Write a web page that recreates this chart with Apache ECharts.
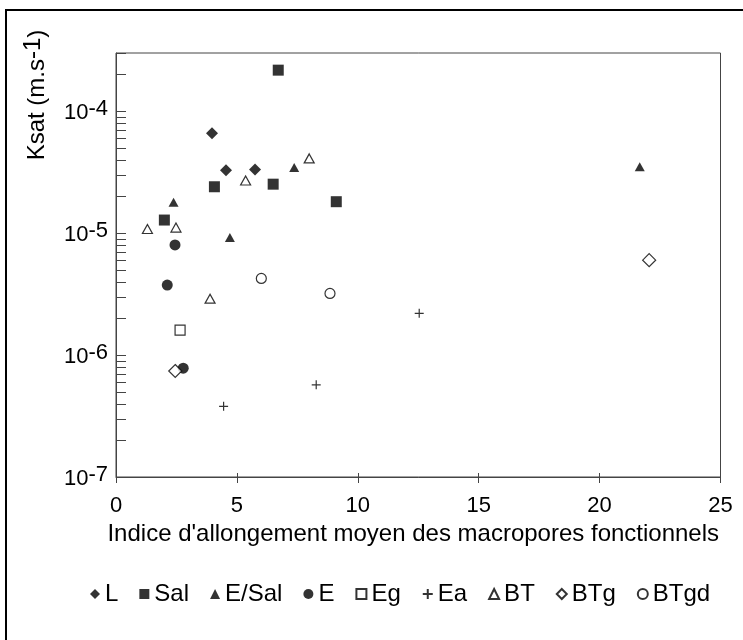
<!DOCTYPE html>
<html>
<head>
<meta charset="utf-8">
<style>html,body{margin:0;padding:0;background:#fff;}#c{width:743px;height:640px;}</style>
<script src="https://cdn.jsdelivr.net/npm/echarts@6/dist/echarts.min.js"></script>
</head>
<body>
<div id="c"></div>
<script>
// ---- data (x = indice d'allongement, y = Ksat in m/s) ----
const seriesNames = ['L', 'Sal', 'E/Sal', 'E', 'Eg', 'Ea', 'BT', 'BTg', 'BTgd'];
const dataL = [[3.97, 6.6e-5], [4.55, 3.28e-5], [5.75, 3.33e-5]];
const dataSal = [[6.71, 2.17e-4], [4.07, 2.4e-5], [6.5, 2.52e-5], [9.11, 1.81e-5], [2.0, 1.28e-5]];
const dataESal = [[7.37, 3.45e-5], [2.38, 1.79e-5], [4.71, 9.2e-6], [21.66, 3.5e-5]];
const dataE = [[2.44, 8.0e-6], [2.12, 3.75e-6], [2.78, 7.8e-7]];
const dataEg = [[2.65, 1.6e-6]];
const dataEa = [[4.45, 3.8e-7], [8.28, 5.7e-7], [12.54, 2.2e-6]];
const dataBT = [[7.99, 4.1e-5], [5.36, 2.7e-5], [1.3, 1.08e-5], [2.48, 1.11e-5], [3.89, 2.9e-6]];
const dataBTg = [[2.45, 7.4e-7], [22.05, 6.0e-6]];
const dataBTgd = [[6.01, 4.25e-6], [8.85, 3.2e-6]];
const xTicks = [0, 5, 10, 15, 20, 25];
const yMin = 1e-7, yMax = 3e-4;
const minorTickValues = [];
[-7, -6, -5, -4].forEach(function (e) {
  for (let m = 2; m <= 9; m++) {
    const v = m * Math.pow(10, e);
    if (v < yMax * 0.999) minorTickValues.push([0, v]);
  }
});

const FONT = "'Liberation Sans', Arial, Helvetica, sans-serif";
const chart = echarts.init(document.getElementById('c'), null, { renderer: 'canvas' });

function scatter(name, data, symbol, size, filled) {
  return {
    name: name, type: 'scatter', data: data, symbol: symbol, symbolSize: size,
    itemStyle: filled
      ? { color: '#000', borderColor: '#000', borderWidth: 0 }
      : { color: symbol.indexOf('path://') === 0 ? 'rgba(0,0,0,0)' : '#fff', borderColor: '#000', borderWidth: 1.2 },
    z: 5
  };
}

const option = {
  backgroundColor: '#fff',
  animation: false,
  grid: { left: 116, top: 53, right: 22.5, bottom: 163, show: true, borderColor: '#444', borderWidth: 1 },
  xAxis: [{
    type: 'value', min: xTicks[0], max: xTicks[xTicks.length - 1], interval: 5,
    position: 'bottom',
    name: "Indice d'allongement moyen des macropores fonctionnels",
    nameLocation: 'middle', nameGap: 44,
    nameTextStyle: { fontSize: 24, color: '#000', fontFamily: FONT, padding: [0, 10, 0, 0] },
    axisLine: { lineStyle: { color: '#444', width: 1 } },
    axisTick: { show: true, inside: false, length: 6, lineStyle: { color: '#444' } },
    axisLabel: { fontSize: 22, color: '#000', fontFamily: FONT, margin: 18 },
    splitLine: { show: false }
  }, {
    type: 'value', min: xTicks[0], max: xTicks[xTicks.length - 1], interval: 5,
    position: 'bottom',
    axisLine: { show: false },
    axisTick: { show: true, inside: true, length: 4, lineStyle: { color: '#444' } },
    axisLabel: { show: false },
    splitLine: { show: false }
  }],
  yAxis: {
    type: 'log', logBase: 10, min: yMin, max: yMax,
    axisLine: { show: true, lineStyle: { color: '#444', width: 1 } },
    axisTick: { show: true, inside: true, length: 10, lineStyle: { color: '#444' } },
    axisLabel: {
      margin: 8, color: '#000', fontFamily: FONT, fontSize: 22,
      formatter: function (v) {
        const e = Math.log10(v), r = Math.round(e);
        if (Math.abs(e - r) > 1e-6) return '';
        return '{b|10}{s|' + r + '}';
      },
      rich: {
        b: { fontSize: 22, fontFamily: FONT, color: '#000', verticalAlign: 'bottom', padding: [4, 0, 0, 0] },
        s: { fontSize: 22, fontFamily: FONT, color: '#000', verticalAlign: 'top', padding: [0, 0, 4, 0] }
      }
    },
    splitLine: { show: false }
  },
  legend: {
    data: seriesNames,
    left: 85, top: 577,
    itemWidth: 10, itemHeight: 10, itemGap: 21,
    textStyle: { fontSize: 24, color: '#000', fontFamily: FONT },
    selectedMode: false
  },
  graphic: [
    { type: 'polyline', shape: { points: [[6, 640], [6, 10], [743, 10]] }, style: { stroke: '#000', lineWidth: 2, fill: null }, silent: true },
    {
      type: 'text', x: 35, y: 95, rotation: Math.PI / 2, silent: true,
      style: {
        text: '{n|Ksat (m.s}{s|-1}{n|)}',
        align: 'center', verticalAlign: 'middle', textAlign: 'center', textVerticalAlign: 'middle',
        fill: '#000', font: '24px ' + FONT,
        rich: {
          n: { fontSize: 24, fontFamily: FONT, fill: '#000', color: '#000', verticalAlign: 'bottom', padding: [4, 0, 0, 0] },
          s: { fontSize: 24, fontFamily: FONT, fill: '#000', color: '#000', verticalAlign: 'top', padding: [0, 0, 4, 0] }
        }
      }
    }
  ],
  series: [
    scatter('L', dataL, 'diamond', 12, true),
    scatter('Sal', dataSal, 'rect', 11, true),
    scatter('E/Sal', dataESal, 'triangle', [10, 9], true),
    scatter('E', dataE, 'circle', 11, true),
    scatter('Eg', dataEg, 'rect', 10, false),
    scatter('Ea', dataEa, 'path://M0,5L10,5M5,0L5,10', 9, false),
    scatter('BT', dataBT, 'triangle', [10, 9], false),
    scatter('BTg', dataBTg, 'diamond', 13, false),
    scatter('BTgd', dataBTgd, 'circle', 10, false),
    {
      name: 'minorTicks', type: 'custom', data: minorTickValues, silent: true, z: 3,
      renderItem: function (params, api) {
        const p = api.coord([0, api.value(1)]);
        const y = Math.round(p[1]) + 0.5;
        return { type: 'line', shape: { x1: p[0], y1: y, x2: p[0] + 10, y2: y }, style: { stroke: '#444', lineWidth: 1 } };
      },
      clip: false
    }
  ]
};
chart.setOption(option);
</script>
</body>
</html>
